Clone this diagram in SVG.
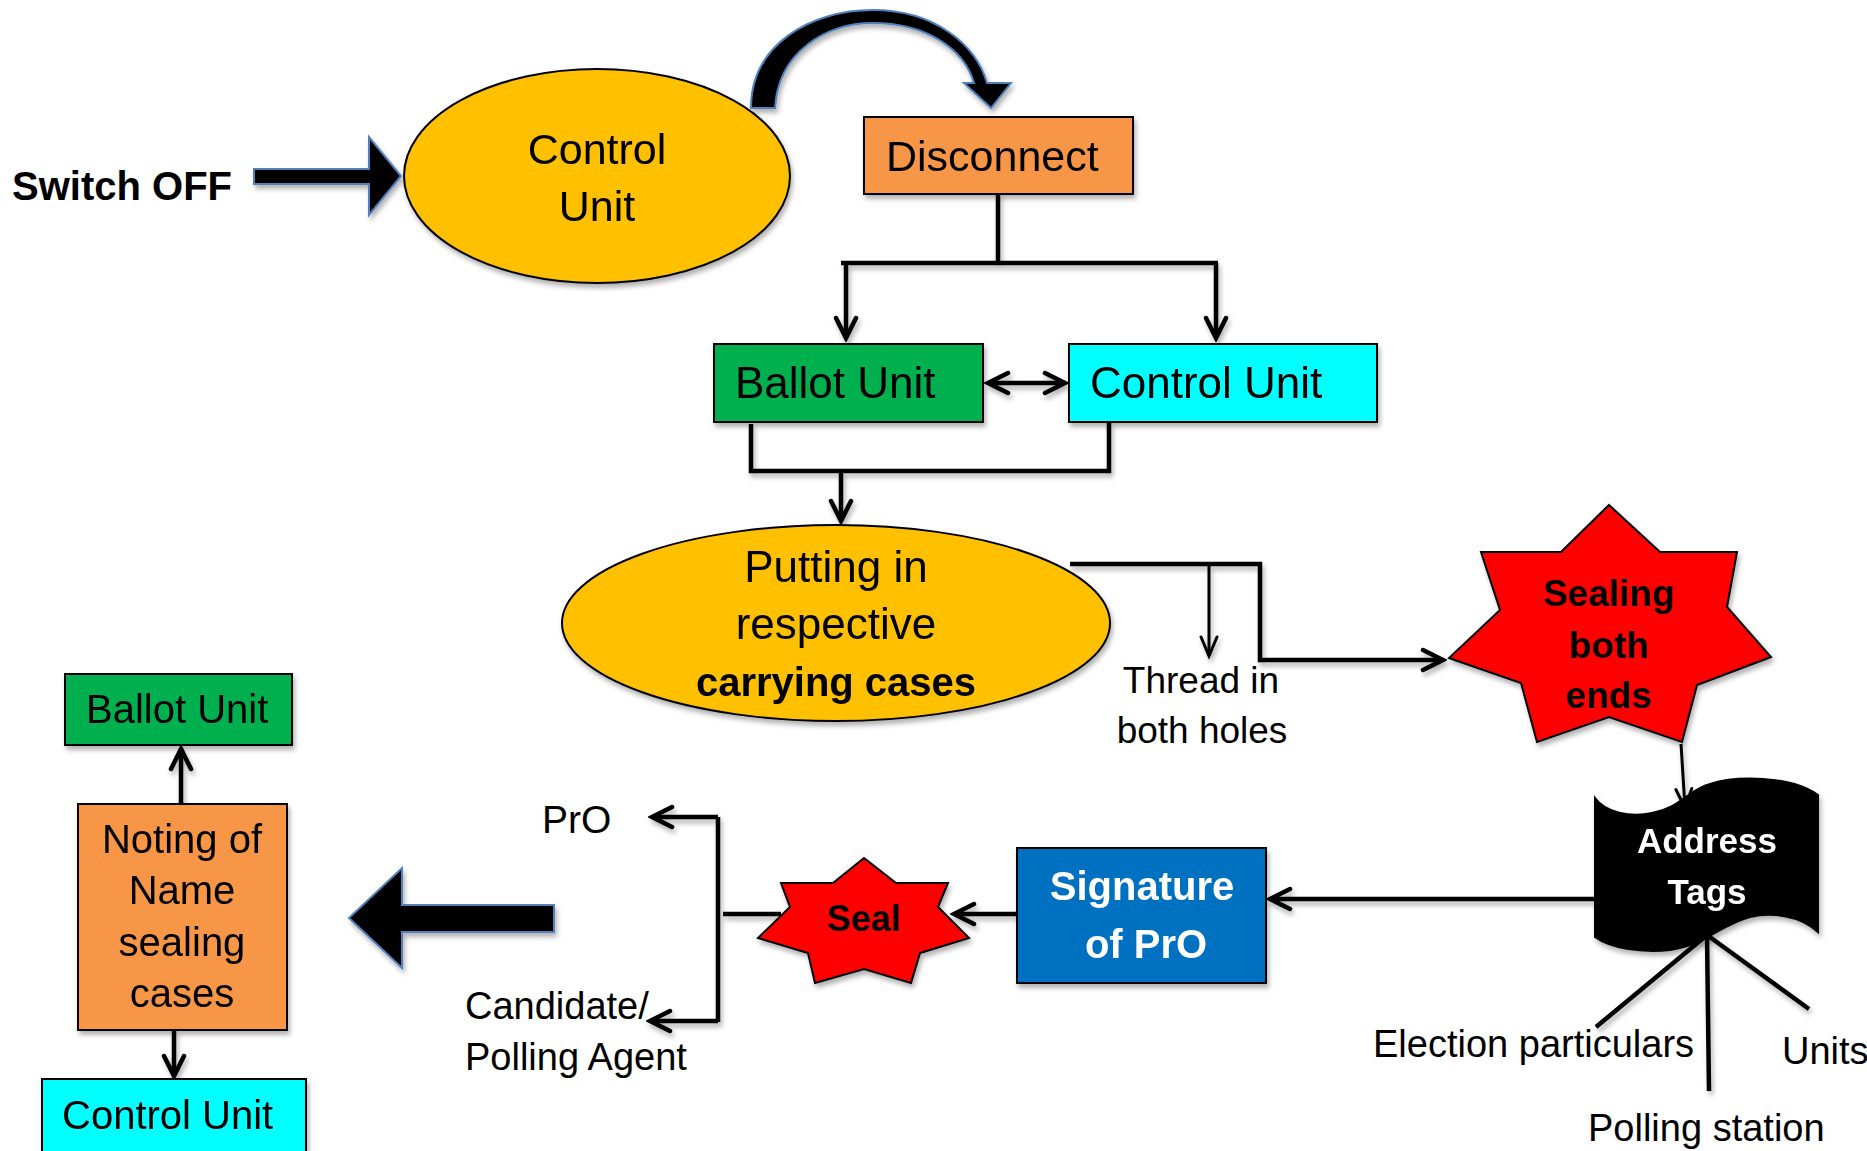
<svg xmlns="http://www.w3.org/2000/svg" width="1867" height="1151" viewBox="0 0 1867 1151">
<style>
  .t{font-family:"Liberation Sans",Arial,sans-serif;fill:#000}
  .b{font-weight:bold}
  .w{fill:#fff}
  .m{text-anchor:middle}
  .node{stroke:#000;stroke-width:2}
  .ln{fill:none;stroke:#000;stroke-width:4.5;stroke-linejoin:miter}
  .thin{fill:none;stroke:#000;stroke-width:3}
  .blk{fill:#000;stroke:#4F81BD;stroke-width:2}
</style>
<defs>
  <filter id="sh" x="-10%" y="-10%" width="130%" height="130%">
    <feDropShadow dx="2" dy="4" stdDeviation="2.5" flood-color="#000" flood-opacity="0.3"/>
  </filter>
  <marker id="ah" markerUnits="userSpaceOnUse" markerWidth="30" markerHeight="30" viewBox="-26 -15 30 30" refX="0" refY="0" orient="auto-start-reverse">
    <path d="M-20,-10 L0,0 L-20,10" fill="none" stroke="#000" stroke-width="4.5" stroke-linecap="round"/>
  </marker>
  <marker id="ahs" markerUnits="userSpaceOnUse" markerWidth="30" markerHeight="30" viewBox="-26 -15 30 30" refX="0" refY="0" orient="auto">
    <path d="M-19,-8 L0,0 L-19,8" fill="none" stroke="#000" stroke-width="3" stroke-linecap="round"/>
  </marker>
</defs>

<g id="connectors" filter="url(#sh)">
  <path class="ln" d="M998,194 V263"/>
  <path class="ln" d="M841,263 H1218"/>
  <path class="ln" d="M846,263 V338" marker-end="url(#ah)"/>
  <path class="ln" d="M1216,263 V338" marker-end="url(#ah)"/>
  <path class="ln" d="M988,383 H1065" marker-start="url(#ah)" marker-end="url(#ah)"/>
  <path class="ln" d="M751,424 V471 H1109 V422"/>
  <path class="ln" d="M841,471 V521" marker-end="url(#ah)"/>
  <path class="ln" d="M1070,564 H1260 V660 H1443" marker-end="url(#ah)"/>
  <path class="thin" d="M1209,564 V656" marker-end="url(#ahs)"/>
  <path class="thin" d="M1681,744 L1685,808" marker-end="url(#ahs)"/>
  <path class="ln" d="M1595,899 H1270" marker-end="url(#ah)"/>
  <path class="ln" d="M1017,914 H954" marker-end="url(#ah)"/>
  <path class="ln" d="M723,914 H781"/>
  <path class="ln" d="M718,817 V1022"/>
  <path class="ln" d="M718,817 H652" marker-end="url(#ah)"/>
  <path class="ln" d="M718,1021 H650" marker-end="url(#ah)"/>
  <path class="ln" d="M181,803 V749" marker-end="url(#ah)"/>
  <path class="ln" d="M174,1030 V1076" marker-end="url(#ah)"/>
  <path class="ln" d="M1707,935 L1596,1027 M1707,935 L1709,1091 M1707,935 L1809,1009"/>
</g>

<g id="switch-off">
  <text class="t b" x="12" y="200" font-size="40">Switch OFF</text>
  <polygon class="blk" filter="url(#sh)" points="254,169 369,169 369,137 401,176 369,215 369,184 254,184"/>
</g>

<g id="control-unit-top" filter="url(#sh)">
  <ellipse class="node" cx="597" cy="176" rx="193" ry="107" fill="#FFC000"/>
  <text class="t m" x="597" y="164" font-size="43">Control</text>
  <text class="t m" x="597" y="221" font-size="43">Unit</text>
</g>

<g id="curved-arrow" filter="url(#sh)">
  <path class="blk" d="M751,108 C751,45 810,10 873,10 C935,10 976,45 987,83 L1011,83 L991,108 L964,83 L974,83 C964,48 925,23 873,23 C826,23 778,52 775,108 Z"/>
</g>

<g id="disconnect" filter="url(#sh)">
  <rect class="node" x="864" y="117" width="269" height="77" fill="#F79646"/>
  <text class="t" x="886" y="171" font-size="43">Disconnect</text>
</g>

<g id="ballot-unit-mid" filter="url(#sh)">
  <rect class="node" x="714" y="344" width="269" height="78" fill="#00B050"/>
  <text class="t" x="735" y="398" font-size="44">Ballot Unit</text>
</g>

<g id="control-unit-mid" filter="url(#sh)">
  <rect class="node" x="1069" y="344" width="308" height="78" fill="#00FFFF"/>
  <text class="t" x="1090" y="398" font-size="44">Control Unit</text>
</g>

<g id="putting-in" filter="url(#sh)">
  <ellipse class="node" cx="836" cy="623" rx="274" ry="98" fill="#FFC000"/>
  <text class="t m" x="836" y="582" font-size="44">Putting in</text>
  <text class="t m" x="836" y="639" font-size="44">respective</text>
  <text class="t b m" x="836" y="696" font-size="40">carrying cases</text>
</g>

<g id="thread-label">
  <text class="t m" x="1201" y="693" font-size="37">Thread in</text>
  <text class="t m" x="1202" y="743" font-size="37">both holes</text>
</g>

<g id="sealing" filter="url(#sh)">
  <polygon class="node" fill="#FF0000" points="1609,505 1660,552 1737,552 1727,607 1771,657 1697,685 1682,742 1609,717 1537,742 1521,683 1449,658 1500,610 1481,552 1561,552"/>
  <text class="t b m" x="1609" y="606" font-size="37">Sealing</text>
  <text class="t b m" x="1609" y="658" font-size="37">both</text>
  <text class="t b m" x="1609" y="708" font-size="37">ends</text>
</g>

<g id="address-tags" filter="url(#sh)">
  <path fill="#000" stroke="#000" stroke-width="2" d="M1595,798 C1605,812 1630,818 1652,813 C1680,808 1688,790 1710,784 C1735,776 1790,775 1818,795 L1818,932 C1800,915 1770,912 1750,917 C1720,925 1705,945 1670,950 C1640,953 1610,948 1595,937 Z"/>
  <text class="t b m w" x="1707" y="853" font-size="35">Address</text>
  <text class="t b m w" x="1707" y="904" font-size="35">Tags</text>
</g>

<g id="address-labels">
  <text class="t" x="1373" y="1057" font-size="38">Election particulars</text>
  <text class="t" x="1782" y="1064" font-size="38">Units</text>
  <text class="t" x="1588" y="1141" font-size="38">Polling station</text>
</g>

<g id="signature" filter="url(#sh)">
  <rect class="node" x="1017" y="848" width="249" height="135" fill="#0070C0"/>
  <text class="t b m w" x="1142" y="900" font-size="40">Signature</text>
  <text class="t b m w" x="1146" y="958" font-size="40">of PrO</text>
</g>

<g id="seal" filter="url(#sh)">
  <polygon class="node" fill="#FF0000" points="864,858 896,883 948,883 938,907 969,938 920,953 911,983 864,969 815,983 808,953 758,938 790,907 781,883 833,883"/>
  <text class="t b m" x="864" y="931" font-size="36">Seal</text>
</g>

<g id="recipients">
  <text class="t" x="542" y="833" font-size="39">PrO</text>
  <text class="t" x="465" y="1019" font-size="38">Candidate/</text>
  <text class="t" x="465" y="1070" font-size="38">Polling Agent</text>
</g>

<g id="big-arrow" filter="url(#sh)">
  <polygon class="blk" points="349,918 402,868 402,905 554,905 554,932 402,932 402,968"/>
</g>

<g id="noting" filter="url(#sh)">
  <rect class="node" x="78" y="804" width="209" height="226" fill="#F79646"/>
  <text class="t m" x="182" y="853" font-size="40">Noting of</text>
  <text class="t m" x="182" y="904" font-size="40">Name</text>
  <text class="t m" x="182" y="956" font-size="40">sealing</text>
  <text class="t m" x="182" y="1007" font-size="40">cases</text>
</g>

<g id="ballot-unit-left" filter="url(#sh)">
  <rect class="node" x="65" y="674" width="227" height="71" fill="#00B050"/>
  <text class="t" x="86" y="723" font-size="40">Ballot Unit</text>
</g>

<g id="control-unit-bottom" filter="url(#sh)">
  <rect class="node" x="42" y="1079" width="264" height="80" fill="#00FFFF"/>
  <text class="t" x="62" y="1129" font-size="40">Control Unit</text>
</g>
</svg>
